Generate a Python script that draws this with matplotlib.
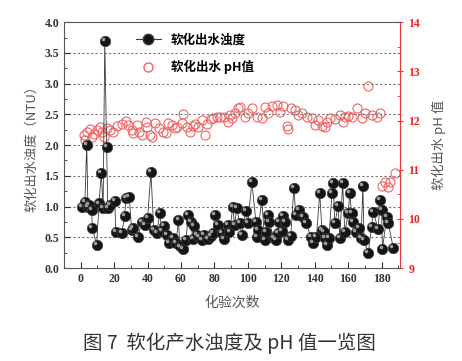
import matplotlib
matplotlib.use("Agg")
import matplotlib.pyplot as plt
from matplotlib.ticker import MultipleLocator
from matplotlib.lines import Line2D
from matplotlib.transforms import offset_copy

plt.rcParams['font.family'] = ['Noto Sans CJK SC', 'DejaVu Sans']
plt.rcParams['axes.unicode_minus'] = False

# turbidity (NTU)
turb_x = [1, 2.5, 3.6, 4.3, 4.8, 6.5, 7, 9.5, 11, 12.3, 13.4, 14.4, 15.5, 16.2, 17.4,
          20.4, 21, 24.5, 26.3, 27, 29, 30.5, 31.4, 34, 36.5, 38.3, 40, 42, 43.7, 45.5,
          47.3, 48.5, 50, 51.5, 53, 55, 57, 58.5, 59.3, 61, 63, 64.3, 66, 67, 67.5,
          69.5, 71, 72.4, 73.7, 76, 78, 79, 80.2, 82, 84.4, 85.6, 88, 89, 91, 92,
          93.4, 95, 96.4, 98.8, 100, 102.4, 104.8, 105.4, 106, 108.4, 110, 111, 112,
          112.6, 115.6, 116.8, 118, 118.5, 120.4, 121, 122, 124, 125.7, 127.5, 128.7,
          130.5, 133, 135, 137.7, 139, 141, 143, 144.3, 145.5, 146, 147.3, 148.5, 150.3,
          151, 152, 154, 155, 156.7, 158, 160, 161, 162, 163, 164.6, 166.5, 167.7, 168.8,
          169.5, 172, 174, 175, 178, 179, 180, 180.5, 183, 184, 187]
turb_y = [0.99, 1.07, 2.0, 1.0, 1.02, 0.94, 0.65, 0.37, 1.05, 1.55, 0.98, 3.69, 1.97, 0.97, 1.02,
          1.09, 0.58, 0.57, 0.84, 1.14, 1.16, 0.62, 0.65, 0.50, 0.75, 0.70, 0.81, 1.56, 0.62, 0.57,
          0.89, 0.60, 0.68, 0.54, 0.40, 0.49, 0.40, 0.78, 0.35, 0.31, 0.46, 0.86, 0.75, 0.47, 0.68,
          0.54, 0.50, 0.45, 0.54, 0.47, 0.52, 0.57, 0.86, 0.70, 0.57, 0.47, 0.70, 0.58, 0.99, 0.70,
          0.97, 0.73, 0.54, 0.93, 0.73, 1.40, 0.75, 0.50, 0.62, 1.10, 0.45, 0.58, 0.86,
          0.75, 0.49, 0.45, 0.57, 0.75, 0.60, 0.85, 0.75, 0.45, 0.52, 1.30, 0.86,
          0.94, 0.83, 0.73, 0.50, 0.41, 0.50, 1.22, 0.62, 0.58, 0.49, 0.37, 0.49, 1.22,
          1.38, 0.73, 1.01, 0.49, 1.38, 0.58, 0.89, 1.22, 0.89, 0.75, 0.58, 0.65, 0.49, 1.33,
          0.45, 0.24, 0.67, 0.91, 0.63, 1.10, 0.94, 0.31, 0.83, 0.73, 0.32]

# softened water pH
ph_x = [1.8, 2.4, 3.6, 5.4, 6.6, 8, 9.5, 11.4, 12.6, 13.8, 15.6, 17.4, 19.2, 21.6, 24.6,
        26.9, 28.1, 30.5, 31.1, 33.5, 34.7, 36.5, 38.9, 39.5, 41.3, 42.5, 44.3, 46.7, 49.1,
        50.9, 52.1, 54.5, 56.3, 57.5, 60.5, 61.1, 63.5, 65.3, 67.1, 68.3, 70.1, 72.5, 74.3,
        75.4, 77.8, 79, 81.4, 83.2, 85.6, 88, 89.2, 90.4, 92.2, 94, 95.2, 98.2, 100, 102.4,
        105.4, 108.4, 110.2, 112, 114.4, 117.4, 119.2, 121, 123.4, 124, 125.7, 128.1, 130,
        132.3, 135.3, 138.3, 140.1, 141.9, 144.3, 146.1, 147.3, 149.1, 152.1, 155.1, 156.9,
        158.1, 160, 162.3, 165.3, 168.3, 170.1, 171.9, 174.3, 177.2, 179,
        180.2, 182, 183.8, 185, 188]
ph_y = [11.70, 11.60, 11.76, 11.83, 11.66, 11.72, 11.80, 11.87, 11.76, 11.66, 11.85, 11.80, 11.76, 11.89, 11.93,
        11.99, 11.91, 11.80, 11.74, 11.91, 11.76, 11.70, 11.97, 11.87, 11.70, 11.66, 11.95, 11.85, 11.76,
        11.74, 11.95, 11.91, 11.85, 11.87, 11.95, 12.13, 11.87, 11.76, 11.89, 11.93, 11.87, 12.01, 11.70,
        11.93, 12.03, 12.05, 12.07, 12.07, 12.07, 11.97, 12.11, 12.05, 12.15, 12.25, 12.27, 12.07, 12.15, 12.25,
        12.07, 12.05, 12.27, 12.15, 12.29, 12.31, 12.17, 12.29, 11.89, 11.83, 12.25, 12.21, 12.11,
        12.15, 12.07, 12.05, 11.91, 12.01, 11.89, 11.87, 11.97, 12.05, 12.03, 12.11, 11.97,
        12.07, 12.09, 12.07, 12.25, 12.05, 12.15, 12.70, 12.11, 12.07, 12.15,
        10.67, 10.75, 10.65, 10.75, 10.93]

serif_bold = dict(family='Liberation Serif', weight='bold', size=8.5)
red = '#ee3333'

fig = plt.figure(figsize=(4.62, 3.61), dpi=100)
ax = fig.add_axes([0.1385, 0.2576, 0.7273, 0.681])
ax2 = ax.twinx()

ax.plot(turb_x, turb_y, color='#3a3a3a', lw=0.6, zorder=2)
ax.plot(turb_x, turb_y, ls='none', marker='o', markersize=7.5,
        markerfacecolor='#151515', markeredgecolor='#3c3c3c', markeredgewidth=0.5, zorder=3)
# little highlight so the balls look shaded like the original
hl = offset_copy(ax.transData, fig=fig, x=-1.4, y=1.4, units='points')
ax.plot(turb_x, turb_y, ls='none', marker='o', markersize=2.6, markerfacecolor='#9a9a9a',
        markeredgecolor='none', transform=hl, zorder=4)

ax2.plot(ph_x, ph_y, ls='none', marker='o', markersize=6.5, markerfacecolor='none',
         markeredgecolor='#f06464', markeredgewidth=0.8)

ax.set_zorder(ax2.get_zorder() + 1)
ax.patch.set_visible(False)

ax.set_xlim(-10, 191)
ax.set_ylim(0, 4)
ax2.set_ylim(9, 14)

ax.xaxis.set_major_locator(MultipleLocator(20))
ax.xaxis.set_minor_locator(MultipleLocator(10))
ax.yaxis.set_major_locator(MultipleLocator(0.5))
ax.yaxis.set_minor_locator(MultipleLocator(0.25))
ax2.yaxis.set_major_locator(MultipleLocator(1))
ax2.yaxis.set_minor_locator(MultipleLocator(0.5))

for y in [0.5, 1.0, 1.5, 2.0, 2.5, 3.0, 3.5]:
    ax.axhline(y, color='#777777', lw=0.8, ls=(0, (2, 2)), zorder=1)

ax.tick_params(axis='both', which='major', direction='in', length=4, width=0.8, colors='#333333')
ax.tick_params(axis='both', which='minor', direction='in', length=2, width=0.6, colors='#333333')
ax.tick_params(top=False, which='both')
ax2.tick_params(axis='y', which='major', direction='inout', length=5, width=0.8, colors=red)
ax2.tick_params(axis='y', which='minor', direction='in', length=2, width=0.6, colors=red)

for lab in ax.get_xticklabels():
    lab.set_fontproperties(serif_bold)
    lab.set_color('#333333')
for lab in ax2.get_yticklabels():
    lab.set_fontproperties(serif_bold)
    lab.set_color('#ee2222')

ax.set_yticks([0, 0.5, 1.0, 1.5, 2.0, 2.5, 3.0, 3.5, 4.0])
ax.set_yticklabels(['0.0', '0.5', '1.0', '1.5', '2.0', '2.5', '3.0', '3.5', '4.0'],
                   fontdict=serif_bold, color='#333333')

for side in ['left', 'bottom', 'top']:
    ax.spines[side].set_color('#555555')
    ax2.spines[side].set_visible(False)
ax.spines['right'].set_visible(False)
ax2.spines['right'].set_color(red)

ax.set_xlabel('化验次数', fontsize=10, color='#555555', labelpad=8)
ax.set_ylabel('软化出水浊度（NTU）', fontsize=9.5, color='#555555', labelpad=4)
ax2.set_ylabel('软化出水 pH 值', fontsize=9.5, color='#555555', labelpad=8)

handles = [Line2D([], [], color='#3a3a3a', lw=0.8, marker='o', markersize=7.5,
                  markerfacecolor='#151515', markeredgecolor='#3c3c3c'),
           Line2D([], [], ls='none', marker='o', markersize=6.5, markerfacecolor='none',
                  markeredgecolor='#f06464')]
ax.legend(handles, ['软化出水浊度', '软化出水 pH值'], loc='upper left', bbox_to_anchor=(0.18, 1.0),
          frameon=False, handlelength=2.0, labelspacing=1.1,
          prop=dict(family=['Noto Sans CJK SC'], weight='bold', size=9))

fig.text(0.497, 0.05, '图 7  软化产水浊度及 pH 值一览图', ha='center', va='center',
         fontsize=14, color='#333333')

fig.savefig('out.png', dpi=100)
